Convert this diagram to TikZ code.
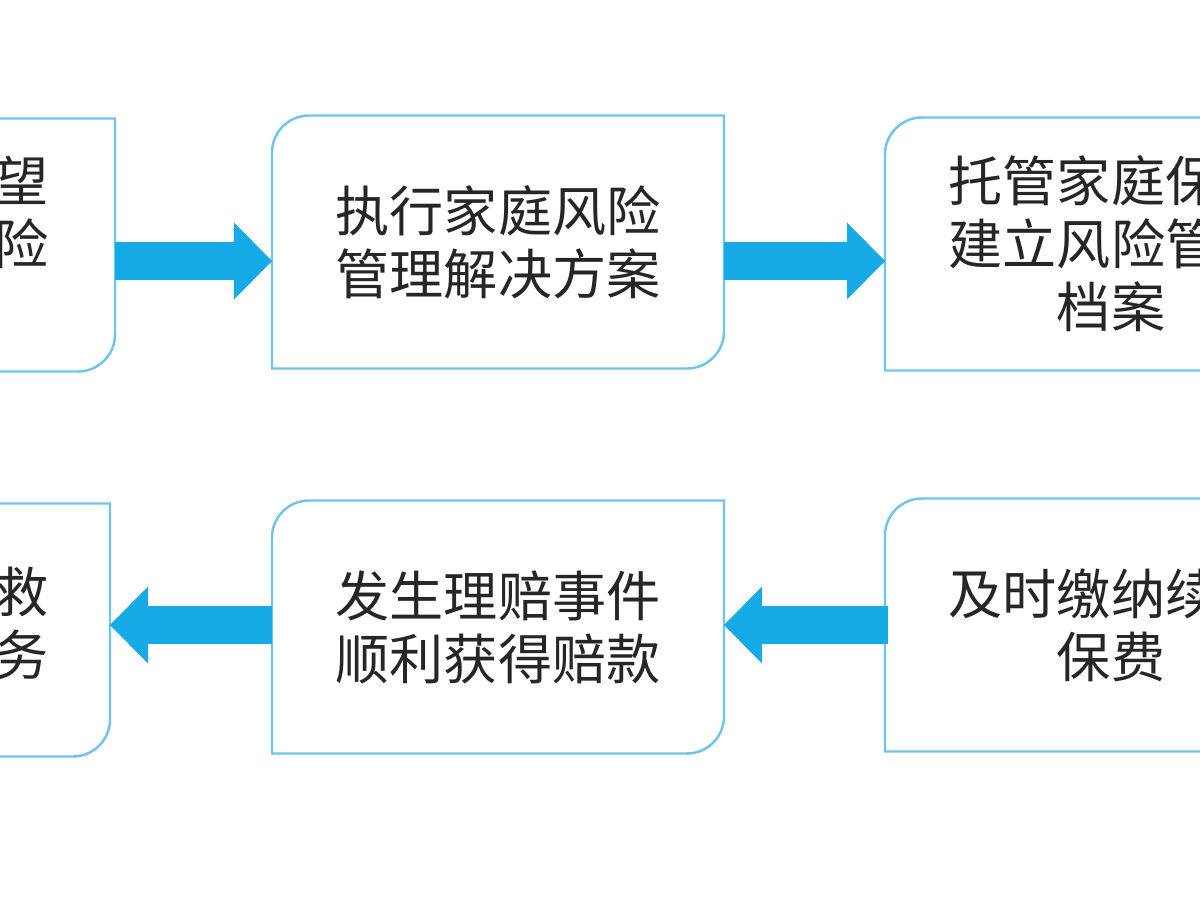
\documentclass[tikz,border=0pt]{standalone}
\usepackage{fontspec}
\newfontfamily\cjk{Noto Sans CJK SC}
\usetikzlibrary{arrows.meta}
\definecolor{boxblue}{RGB}{110,196,236}
\definecolor{arrowblue}{RGB}{22,170,230}

\begin{document}
\begin{tikzpicture}[every node/.style={font=\cjk\fontsize{15.4}{17.9}\selectfont, text=black!85},
  box/.style={minimum width=4.52cm, minimum height=2.53cm, inner sep=0pt, outer sep=0pt, align=center},
  boxline/.style={draw=boxblue, line width=0.7pt},
  flow/.style={draw=arrowblue, line width=0.38cm, -{Triangle[length=0.38cm, width=0.77cm, line width=0pt]}}]
% page
\useasboundingbox (0,0) rectangle (12,9);
% top row
\node[box] (A) at (-1.11,6.55) {};
\node[box] (B) at (4.98,6.58) {执行家庭风险\\管理解决方案};
\node[box] (C) at (11.11,6.56) {\makebox[6em][l]{托管家庭保}\\\makebox[6em][l]{建立风险管}\\档案};
% bottom row
\node[box] (D) at (-1.16,2.70) {};
\node[box] (E) at (4.98,2.73) {发生理赔事件\\顺利获得赔款};
\node[box] (F) at (11.11,2.75) {\makebox[6em][l]{及时缴纳续}\\保费};
% cut texts on the left
\node[anchor=east, align=right, inner sep=0pt] (Atext) at (0.49,6.875) {望\\险};
\node[anchor=east, align=right, inner sep=0pt] (Dtext) at (0.49,2.765) {救\\务};
% outlines, round corner top left and bottom right
\draw[boxline] (A.north east) -- ([yshift=0.37cm]A.south east) arc[start angle=0, end angle=-90, radius=0.37cm] -- (A.south west) -- ([yshift=-0.37cm]A.north west) arc[start angle=180, end angle=90, radius=0.37cm] -- cycle;
\draw[boxline] (B.north east) -- ([yshift=0.37cm]B.south east) arc[start angle=0, end angle=-90, radius=0.37cm] -- (B.south west) -- ([yshift=-0.37cm]B.north west) arc[start angle=180, end angle=90, radius=0.37cm] -- cycle;
\draw[boxline] (C.north east) -- ([yshift=0.37cm]C.south east) arc[start angle=0, end angle=-90, radius=0.37cm] -- (C.south west) -- ([yshift=-0.37cm]C.north west) arc[start angle=180, end angle=90, radius=0.37cm] -- cycle;
\draw[boxline] (D.north east) -- ([yshift=0.37cm]D.south east) arc[start angle=0, end angle=-90, radius=0.37cm] -- (D.south west) -- ([yshift=-0.37cm]D.north west) arc[start angle=180, end angle=90, radius=0.37cm] -- cycle;
\draw[boxline] (E.north east) -- ([yshift=0.37cm]E.south east) arc[start angle=0, end angle=-90, radius=0.37cm] -- (E.south west) -- ([yshift=-0.37cm]E.north west) arc[start angle=180, end angle=90, radius=0.37cm] -- cycle;
\draw[boxline] (F.north east) -- ([yshift=0.37cm]F.south east) arc[start angle=0, end angle=-90, radius=0.37cm] -- (F.south west) -- ([yshift=-0.37cm]F.north west) arc[start angle=180, end angle=90, radius=0.37cm] -- cycle;
% arrows
\coordinate (a1) at ([yshift=-0.16cm]A.east);
\coordinate (b1) at ([yshift=-0.19cm]B.east);
\coordinate (e1) at ([yshift=0.02cm]E.west);
\draw[flow] (a1) -- (a1 -| B.west);
\draw[flow] (b1) -- (b1 -| C.west);
\draw[flow] ([xshift=0.03cm]F.west) -- (F.west -| E.east);
\draw[flow] (e1) -- (e1 -| D.east);
\end{tikzpicture}
\end{document}
